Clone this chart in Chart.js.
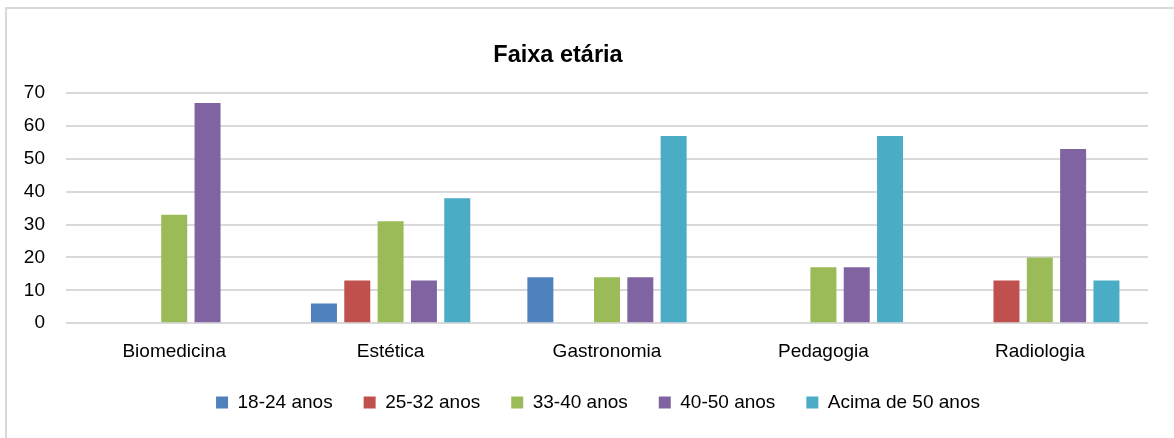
<!DOCTYPE html>
<html>
<head>
<meta charset="utf-8">
<script src="https://cdn.jsdelivr.net/npm/chart.js@4"></script>
<style>
  html,body{margin:0;padding:0;background:#fff;}
  #wrap{position:relative;width:1174px;height:438px;}
  #frame{position:absolute;left:5px;top:7px;right:0;bottom:0;border-top:2px solid #d9d9d9;border-left:2px solid #d9d9d9;pointer-events:none;}
</style>
</head>
<body>
<div id="wrap">
  <canvas id="chart" width="1174" height="438"></canvas>
  <div id="frame"></div>
</div>
<script>
  /* ── DATA ── */
  const categories = ['Biomedicina','Estética','Gastronomia','Pedagogia','Radiologia'];
  const seriesNames = ['18-24 anos','25-32 anos','33-40 anos','40-50 anos','Acima de 50 anos'];
  const a18_24 = [0, 6, 14, 0, 0];
  const a25_32 = [0, 13, 0, 0, 13];
  const a33_40 = [33, 31, 14, 17, 20];
  const a40_50 = [67, 13, 14, 17, 53];
  const acima50 = [0, 38, 57, 57, 13];
  const yTicks = [0,10,20,30,40,50,60,70];

  const colors = ['#4F81BD','#C0504D','#9BBB59','#8064A2','#4BACC6'];
  const values = [a18_24, a25_32, a33_40, a40_50, acima50];

  Chart.defaults.font.family = '"Liberation Sans",Arial,sans-serif';
  Chart.defaults.color = '#000';

  // nudge title and legend sideways like the original
  const shiftBoxes = {
    id: 'shiftBoxes',
    afterLayout(chart){
      if(chart.legend){ chart.legend.left += 24; chart.legend.right += 24; }
      if(chart.titleBlock){ chart.titleBlock.left -= 16; chart.titleBlock.right -= 16; }
    }
  };

  new Chart(document.getElementById('chart'), {
    type: 'bar',
    data: {
      labels: categories,
      datasets: seriesNames.map((n,i)=>({
        label: n,
        data: values[i],
        backgroundColor: colors[i],
        borderWidth: 0,
        categoryPercentage: 0.77,
        barPercentage: 0.78
      }))
    },
    options: {
      responsive: false,
      animation: false,
      layout: { padding: { left: 0, right: 26, top: 0, bottom: 16 } },
      plugins: {
        title: {
          display: true,
          text: 'Faixa etária',
          color: '#000',
          font: { size: 23.5, weight: 'bold' },
          padding: { top: 41, bottom: 24 }
        },
        legend: {
          position: 'bottom',
          labels: { boxWidth: 12, boxHeight: 12, padding: 31, font: { size: 19 }, color: '#000' }
        },
        tooltip: { enabled: false }
      },
      scales: {
        x: {
          afterFit: s => { s.height = s.height - 18; },
          grid: { display: false, drawTicks: false },
          border: { display: false },
          ticks: { font: { size: 19 }, color: '#000', padding: 17 }
        },
        y: {
          min: 0, max: 70,
          afterFit: s => { s.width = 66; },
          afterBuildTicks: s => { s.ticks = yTicks.map(v=>({value:v})); },
          grid: { color: '#d9d9d9', lineWidth: 2, drawTicks: false },
          border: { display: false },
          ticks: { font: { size: 19 }, color: '#000', padding: 21 }
        }
      }
    },
    plugins: [shiftBoxes]
  });
</script>
</body>
</html>
